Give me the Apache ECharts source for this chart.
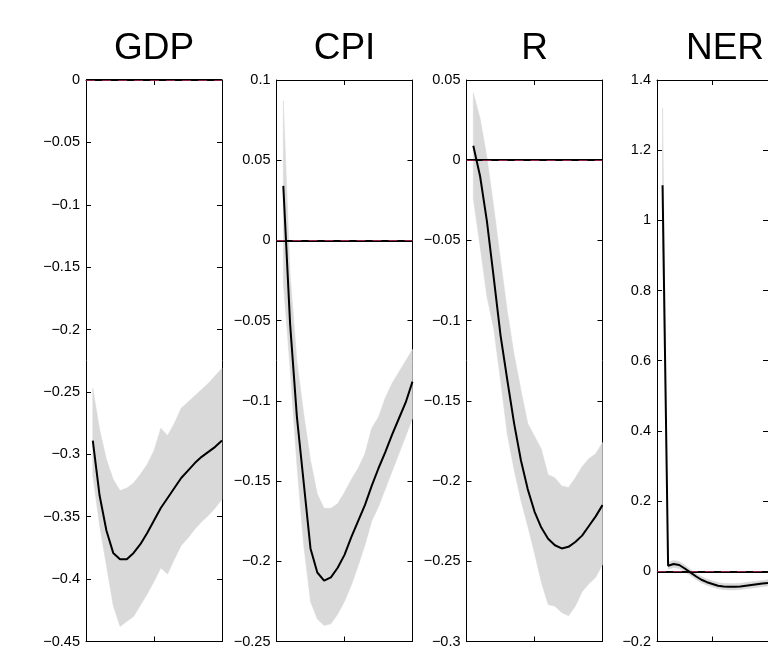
<!DOCTYPE html>
<html>
<head>
<meta charset="utf-8">
<script src="https://cdn.jsdelivr.net/npm/echarts@6/dist/echarts.min.js"></script>
<style>
  html, body { margin: 0; padding: 0; background: #fff; }
  #chart { width: 768px; height: 649px; }
</style>
</head>
<body>
<div id="chart"></div>
<script>
// horizon (quarters after the shock)
var periods = [1, 2, 3, 4, 5, 6, 7, 8, 9, 10, 11, 12, 13, 14, 15, 16, 17, 18, 19, 20];

var panelNames = ['GDP', 'CPI', 'R', 'NER'];

// median responses and bands
var gdpMid = [-0.289, -0.333, -0.361, -0.379, -0.384, -0.384, -0.379, -0.372, -0.363, -0.353,
              -0.343, -0.335, -0.327, -0.319, -0.313, -0.307, -0.302, -0.298, -0.294, -0.289];
var gdpUp  = [-0.247, -0.280, -0.304, -0.320, -0.329, -0.327, -0.323, -0.316, -0.308, -0.297,
              -0.279, -0.285, -0.275, -0.263, -0.258, -0.253, -0.248, -0.243, -0.237, -0.231];
var gdpLow = [-0.317, -0.357, -0.389, -0.421, -0.438, -0.434, -0.430, -0.421, -0.412, -0.402,
              -0.391, -0.396, -0.384, -0.373, -0.367, -0.360, -0.354, -0.349, -0.343, -0.336];

var cpiMid = [0.034, -0.052, -0.110, -0.151, -0.192, -0.207, -0.212, -0.210, -0.204, -0.196,
              -0.185, -0.175, -0.165, -0.153, -0.142, -0.132, -0.121, -0.111, -0.101, -0.088];
var cpiUp  = [0.087, -0.021, -0.075, -0.108, -0.137, -0.158, -0.167, -0.167, -0.164, -0.157,
              -0.149, -0.142, -0.133, -0.117, -0.110, -0.098, -0.089, -0.082, -0.075, -0.068];
var cpiLow = [-0.026, -0.080, -0.140, -0.190, -0.225, -0.236, -0.240, -0.239, -0.233, -0.225,
              -0.215, -0.203, -0.190, -0.175, -0.166, -0.155, -0.144, -0.133, -0.122, -0.111];

var rMid = [0.009, -0.010, -0.038, -0.073, -0.109, -0.137, -0.164, -0.187, -0.205, -0.219,
            -0.229, -0.236, -0.240, -0.242, -0.241, -0.238, -0.234, -0.228, -0.222, -0.215];
var rUp  = [0.042, 0.026, 0.002, -0.029, -0.062, -0.094, -0.121, -0.143, -0.164, -0.172,
            -0.180, -0.196, -0.198, -0.203, -0.204, -0.198, -0.191, -0.186, -0.183, -0.176];
var rLow = [-0.024, -0.054, -0.085, -0.105, -0.137, -0.171, -0.193, -0.212, -0.228, -0.245,
            -0.263, -0.277, -0.278, -0.282, -0.284, -0.278, -0.269, -0.264, -0.260, -0.252];

var nerMid = [1.100, 0.016, 0.021, 0.018, 0.008, -0.003, -0.014, -0.024, -0.031, -0.036,
              -0.041, -0.043, -0.044, -0.044, -0.043, -0.041, -0.039, -0.037, -0.035, -0.033];
var nerUp  = [1.320, 0.026, 0.031, 0.028, 0.018, 0.006, -0.005, -0.015, -0.022, -0.027,
              -0.032, -0.034, -0.035, -0.035, -0.034, -0.032, -0.030, -0.028, -0.026, -0.024];
var nerLow = [0.920, 0.006, 0.011, 0.008, -0.002, -0.012, -0.023, -0.033, -0.040, -0.045,
              -0.050, -0.052, -0.053, -0.053, -0.052, -0.050, -0.048, -0.046, -0.044, -0.042];

// y axis ranges
var yMins = [-0.45, -0.25, -0.3, -0.2];
var yMaxs = [0, 0.1, 0.05, 1.4];
var yStep = [0.05, 0.05, 0.05, 0.2];

var mids = [gdpMid, cpiMid, rMid, nerMid];
var ups = [gdpUp, cpiUp, rUp, nerUp];
var lows = [gdpLow, cpiLow, rLow, nerLow];

var gridLefts = [86, 276.5, 466.5, 657];
var gridW = 136;

function pairs(vals) {
  var out = [];
  for (var i = 0; i < periods.length; i++) out.push([periods[i], vals[i]]);
  return out;
}
function bandRows(lo, hi) {
  var out = [];
  for (var i = 0; i < periods.length; i++) out.push([periods[i], lo[i], hi[i]]);
  return out;
}
function fmt(v) {
  var s = (Math.round(v * 1000) / 1000).toString();
  return s.replace('-', '\u2212');
}

// whole band drawn as one polygon, from the axis scales
function renderBand(params, api) {
  if (params.dataIndexInside !== 0) return;
  var n = params.dataInsideLength;
  var top = [], bot = [];
  for (var i = 0; i < n; i++) {
    var x = api.value(0, i);
    top.push(api.coord([x, api.value(2, i)]));
    bot.unshift(api.coord([x, api.value(1, i)]));
  }
  return {
    type: 'polygon',
    shape: { points: top.concat(bot) },
    style: { fill: '#d9d9d9', stroke: '#d9d9d9', lineWidth: 0.5 }
  };
}

var grids = [], xAxes = [], yAxes = [], series = [], titles = [];
var tick = { show: true, inside: true, length: 5, lineStyle: { color: '#000', width: 1 } };
var line = { show: true, onZero: false, lineStyle: { color: '#000', width: 1 } };

for (var p = 0; p < 4; p++) {
  grids.push({ left: gridLefts[p], top: 80, width: gridW, height: 562, containLabel: false });
  titles.push({
    text: panelNames[p], left: gridLefts[p] + gridW / 2, top: 30, padding: 0, textAlign: 'center',
    textStyle: { fontFamily: 'Liberation Sans', fontSize: 37, fontWeight: 'normal', color: '#000' }
  });
  // bottom and top x axes
  xAxes.push({ type: 'value', gridIndex: p, min: 0, max: 20, interval: 10, position: 'bottom',
    axisLine: line, axisTick: tick, axisLabel: { show: false }, splitLine: { show: false } });
  xAxes.push({ type: 'value', gridIndex: p, min: 0, max: 20, interval: 10, position: 'top',
    axisLine: line, axisTick: tick, axisLabel: { show: false }, splitLine: { show: false } });
  // left and right y axes
  yAxes.push({ type: 'value', gridIndex: p, min: yMins[p], max: yMaxs[p], interval: yStep[p], position: 'left',
    axisLine: line, axisTick: tick, splitLine: { show: false },
    axisLabel: { show: true, margin: 6, color: '#000', fontSize: 14.5, fontFamily: 'Liberation Sans', formatter: fmt } });
  yAxes.push({ type: 'value', gridIndex: p, min: yMins[p], max: yMaxs[p], interval: yStep[p], position: 'right',
    axisLine: line, axisTick: tick, axisLabel: { show: false }, splitLine: { show: false } });

  var xi = p * 2, yi = p * 2;
  series.push({
    type: 'custom', xAxisIndex: xi, yAxisIndex: yi, data: bandRows(lows[p], ups[p]),
    renderItem: renderBand, encode: { x: 0, y: [1, 2] }, silent: true, z: 1
  });
  series.push({
    type: 'line', xAxisIndex: xi, yAxisIndex: yi, data: [], symbol: 'none', silent: true, z: 3,
    markLine: {
      symbol: 'none', silent: true, label: { show: false }, animation: false,
      data: [
        { yAxis: 0, lineStyle: { color: '#000', width: 2, type: 'solid' } },
        { yAxis: 0, lineStyle: { color: '#8a2046', width: 1, type: [9, 7] } }
      ]
    }
  });
  series.push({
    type: 'line', xAxisIndex: xi, yAxisIndex: yi, data: pairs(mids[p]), symbol: 'none',
    lineStyle: { color: '#000', width: 2 }, silent: true, z: 5
  });
}

var chart = echarts.init(document.getElementById('chart'));
chart.setOption({
  animation: false,
  backgroundColor: '#fff',
  title: titles,
  grid: grids,
  xAxis: xAxes,
  yAxis: yAxes,
  series: series
});
</script>
</body>
</html>
